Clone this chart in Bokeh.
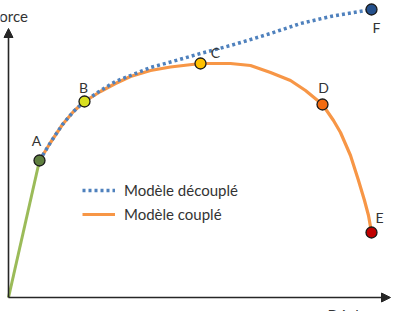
from bokeh.plotting import figure
from bokeh.models import Range1d, Arrow, NormalHead, Label, Legend, LegendItem, ColumnDataSource
from bokeh.embed import file_html
from bokeh.resources import INLINE
from bokeh.core.properties import value

# Data (displacement, force) in arbitrary units
elastic_x = [0, 31]
elastic_y = [0, 137]

coupled_x = [31, 42, 54, 65, 76, 92, 107, 122, 142, 162, 192, 222, 242, 262, 282, 297, 314, 325, 332, 342, 350, 356, 360, 363]
coupled_y = [137, 155, 173, 186, 196, 206, 214, 221, 227, 230.5, 234, 234, 232, 225, 217, 207, 193, 177, 165, 142, 117, 97, 82, 65]

decoupled_x = [31, 42, 54, 65, 76, 92, 107, 122, 142, 162, 192, 222, 239, 262, 292, 322, 363]
decoupled_y = [137, 155, 173, 186, 196, 207, 216, 222, 230, 235.5, 244, 252, 257, 264, 274, 281, 288]

point_names = ["A", "B", "C", "D", "E", "F"]
point_x = [31, 76, 192, 314, 363, 363]
point_y = [137, 196, 234, 193, 65, 288]
point_colors = ["#5f7f3f", "#d9e021", "#ffc000", "#f26b10", "#c00000", "#24508c"]
label_dx = [-3, -1, 15, 1, 8, 5]
label_dy = [-20, -14, -11, -17, -15, 18]

p = figure(width=400, height=311, output_backend="svg", toolbar_location=None,
           x_range=Range1d(-8, 392), y_range=Range1d(-14, 297),
           min_border=0, min_border_left=0, min_border_right=0,
           min_border_top=0, min_border_bottom=0)
p.axis.visible = False
p.grid.visible = False
p.outline_line_color = None
p.background_fill_color = "white"

# axes as arrows
axis_col = "#262626"
p.add_layout(Arrow(end=NormalHead(size=9, fill_color=axis_col, line_color=axis_col),
                   x_start=0, y_start=0, x_end=382, y_end=0,
                   line_color=axis_col, line_width=1.6))
p.add_layout(Arrow(end=NormalHead(size=9, fill_color=axis_col, line_color=axis_col),
                   x_start=0, y_start=0, x_end=0, y_end=269,
                   line_color=axis_col, line_width=1.6))

p.line(elastic_x, elastic_y, line_color="#9bbb59", line_width=3)
r_c = p.line(coupled_x, coupled_y, line_color="#f79646", line_width=3.2)
r_d = p.line(decoupled_x, decoupled_y, line_color="#4f81bd", line_width=3.5, line_dash="3 3")

src = ColumnDataSource(dict(x=point_x, y=point_y, c=point_colors, t=point_names,
                            dx=label_dx, dy=label_dy))
p.scatter("x", "y", source=src, size=11, fill_color="c", line_color="#1a1a1a", line_width=1.3)
p.text("x", "y", text="t", source=src, x_offset="dx", y_offset="dy",
       text_align="center", text_baseline="middle", text_font=value("Lato"),
       text_font_size="14px", text_color="#333333")

p.add_layout(Label(x=-9, y=296, x_units="screen", y_units="screen", text="Force",
                   text_font="Lato", text_font_size="15px", text_color="#333333",
                   text_baseline="middle"))
p.add_layout(Label(x=327, y=6, x_units="screen", y_units="screen", text="Déplacement",
                   text_font="Lato", text_font_size="15px", text_color="#333333",
                   text_baseline="top"))

legend = Legend(items=[LegendItem(label="Modèle découplé", renderers=[r_d]),
                       LegendItem(label="Modèle couplé", renderers=[r_c])],
                location=(82, 88), glyph_width=33, glyph_height=16, label_height=16,
                label_standoff=9, spacing=6, padding=4, margin=0,
                label_text_font="Lato", label_text_font_size="15px",
                label_text_color="#333333", border_line_color=None,
                background_fill_alpha=0)
p.add_layout(legend)

open("out.html", "w").write(file_html(p, INLINE))
